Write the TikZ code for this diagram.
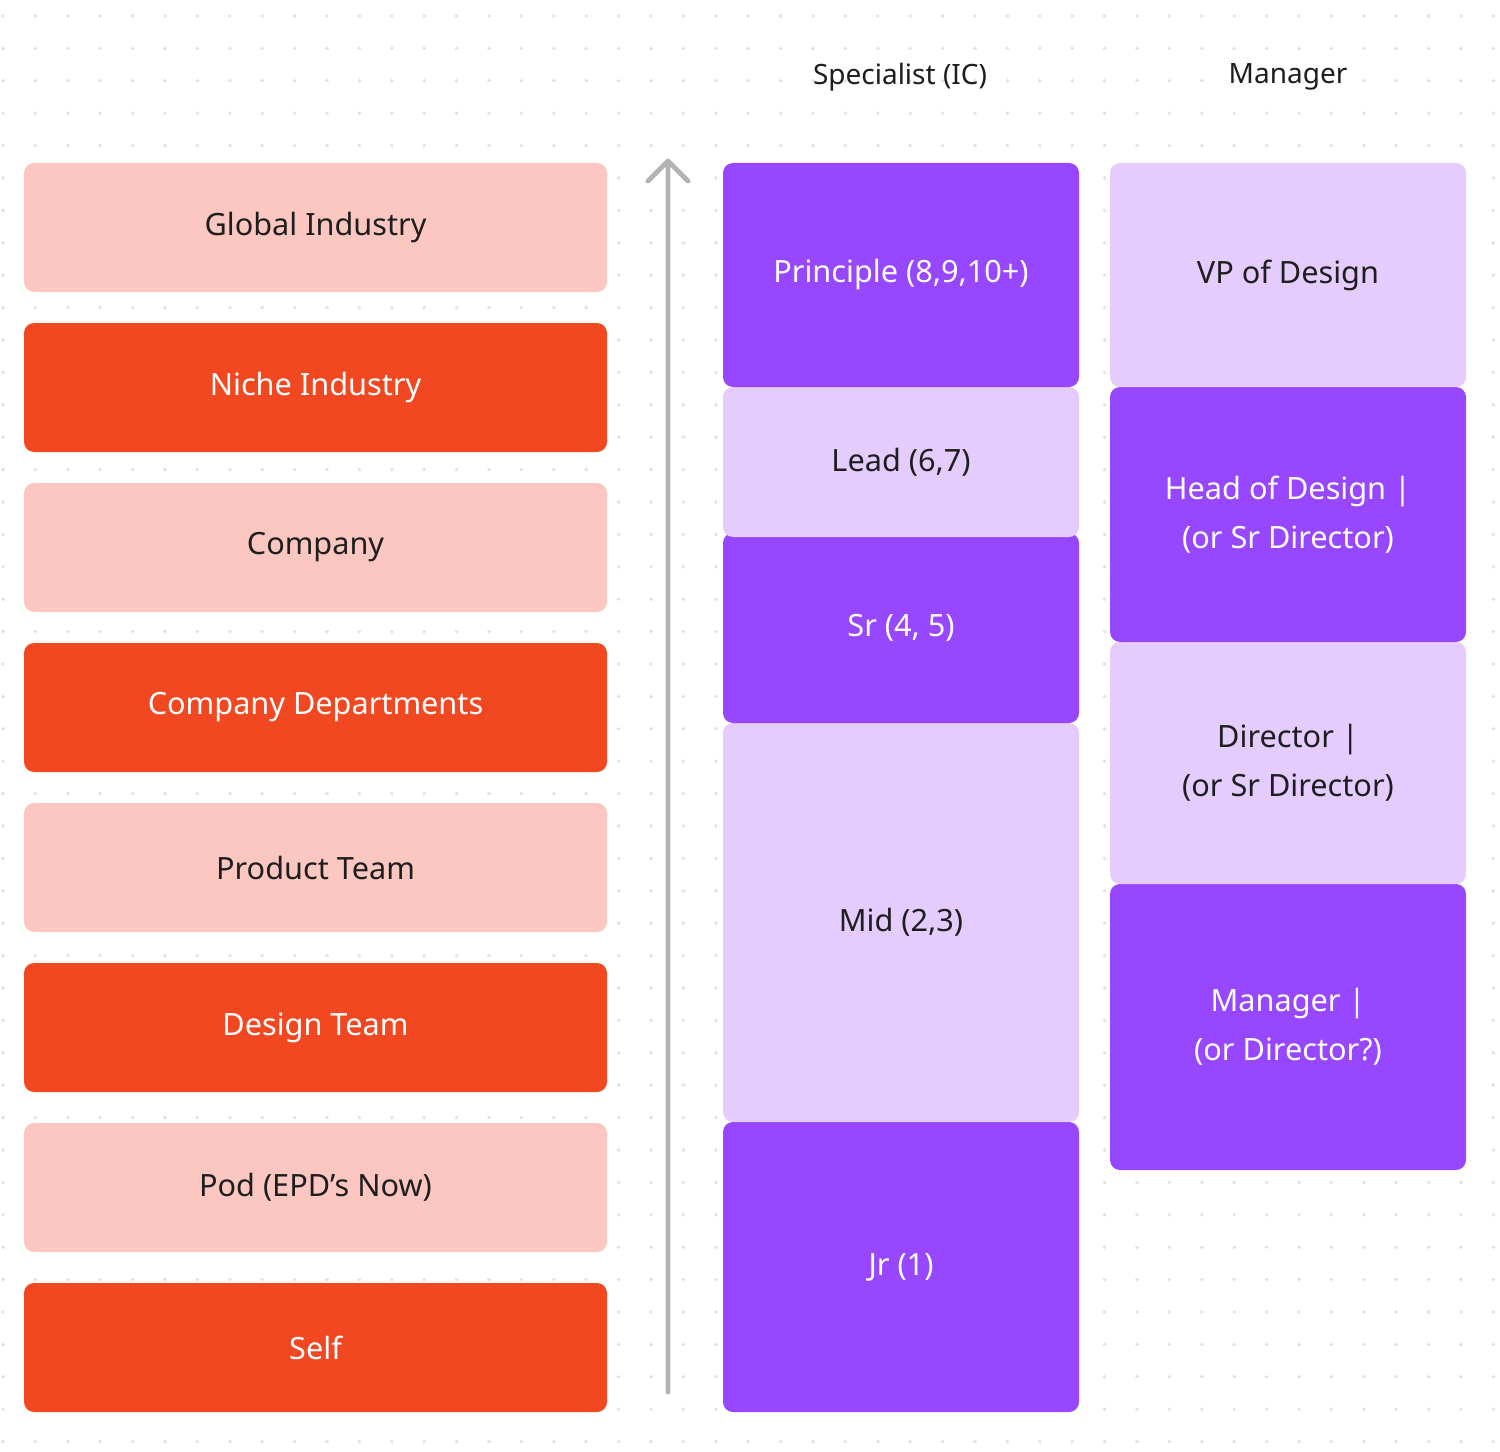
\documentclass[tikz,border=0pt]{standalone}
\usepackage{fontspec}
\setmainfont{Noto Sans}
\definecolor{salmon}{HTML}{FCC7C1}
\definecolor{redor}{HTML}{F24822}
\definecolor{purp}{HTML}{9747FF}
\definecolor{lpurp}{HTML}{E4CCFF}
\definecolor{txt}{HTML}{1E1E1E}
\definecolor{dotc}{HTML}{E2E2E2}
\definecolor{arr}{HTML}{B3B3B3}
\begin{document}
\begin{tikzpicture}[x=0.75pt,y=-0.75pt,
  box/.style={rounded corners=7.5pt,inner sep=0pt,align=center,font=\fontsize{23}{37}\selectfont},
  lite/.style={box,fill=salmon,text=txt},
  dark/.style={box,fill=redor,text=white},
  pd/.style={box,fill=purp,text=white},
  pl/.style={box,fill=lpurp,text=txt},
  hdr/.style={font=\fontsize{21}{25}\selectfont\bfseries,text=txt}]
\path[use as bounding box,fill=white] (0,0) rectangle (1500,1452);
\foreach \i in {0,...,46}{\foreach \j in {0,...,44}{
  \fill[dotc] (3+32.4*\i,16+32.4*\j) circle (1.9);}}
\def\bx#1#2#3#4#5#6#7{\draw[#1,draw=none] (#3,#4) rectangle (#5,#6);
  \node[#1,fill=none] (#2) at ({(#3+#5)/2},{(#4+#6)/2}) {#7};}
\bx{lite}{g}{24}{163}{607}{292}{Global Industry}
\bx{dark}{n}{24}{323}{607}{452}{Niche Industry}
\bx{lite}{c}{24}{483}{607}{612}{Company}
\bx{dark}{cd}{24}{643}{607}{772}{Company Departments}
\bx{lite}{pt}{24}{803}{607}{932}{Product Team}
\bx{dark}{dt}{24}{963}{607}{1092}{Design Team}
\bx{lite}{pod}{24}{1123}{607}{1252}{Pod (EPD’s Now)}
\bx{dark}{self}{24}{1283}{607}{1412}{Self}
\coordinate (abot) at (668,1392);
\coordinate (atop) at (668,161);
\draw[arr,line width=3.6pt,line cap=round,line join=round] (abot) -- (atop) (648,181) -- (atop) -- (688,181);
\node[hdr] (h1) at (900,77) {Specialist (IC)};
\node[hdr] (h2) at (1288,77) {Manager};
\bx{pd}{jr}{723}{1122}{1079}{1412}{Jr (1)}
\bx{pl}{mid}{723}{723}{1079}{1122}{Mid (2,3)}
\bx{pd}{sr}{723}{533}{1079}{723}{Sr (4, 5)}
\bx{pl}{lead}{723}{387}{1079}{537}{Lead (6,7)}
\bx{pd}{pr}{723}{163}{1079}{387}{Principle (8,9,10+)}
\bx{pd}{mg}{1110}{884}{1466}{1170}{Manager |\\(or Director?)}
\bx{pl}{dir}{1110}{642}{1466}{884}{Director |\\(or Sr Director)}
\bx{pd}{hd}{1110}{387}{1466}{642}{Head of Design |\\(or Sr Director)}
\bx{pl}{vp}{1110}{163}{1466}{387}{VP of Design}
\end{tikzpicture}
\end{document}
